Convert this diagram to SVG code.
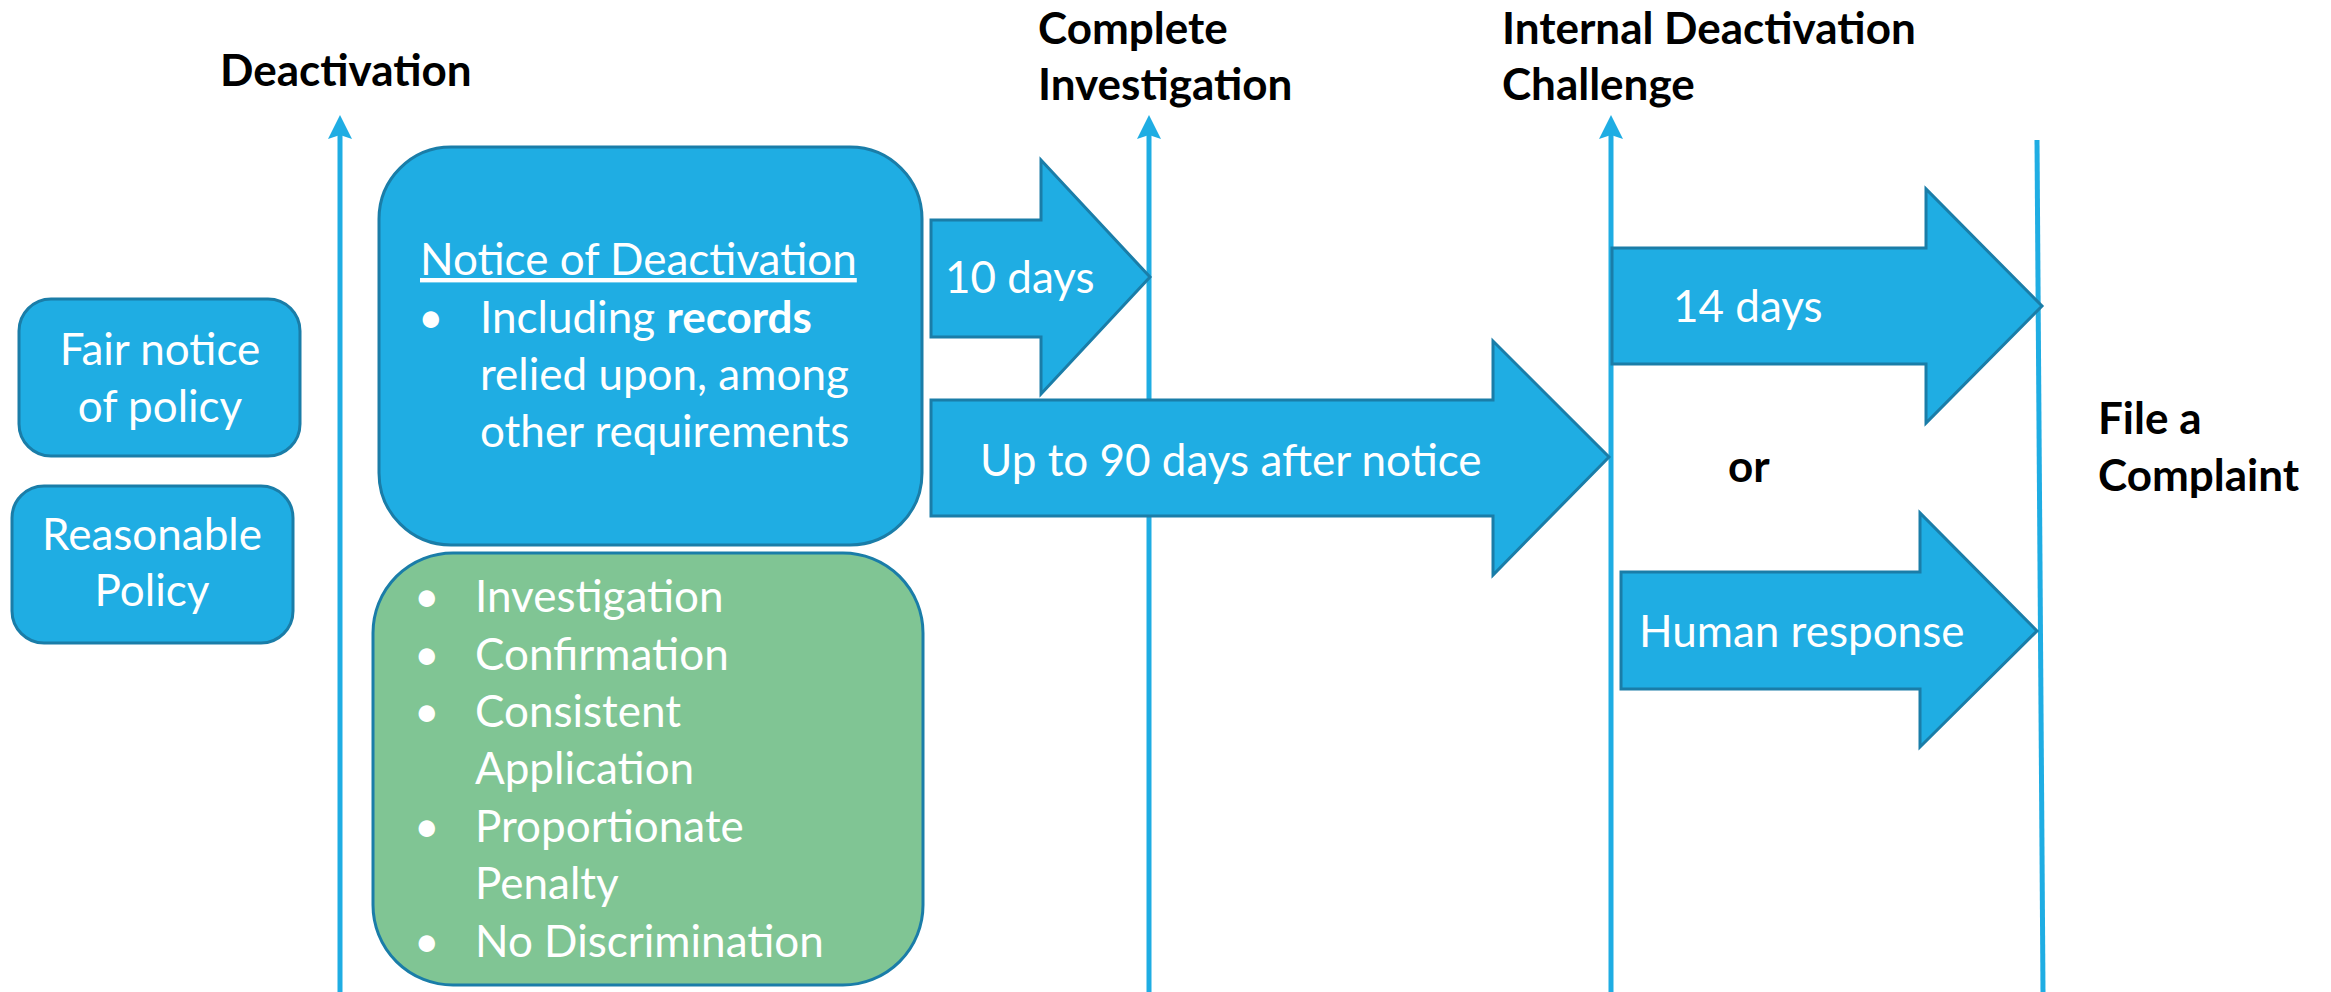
<svg xmlns="http://www.w3.org/2000/svg" width="2331" height="992" viewBox="0 0 2331 992">
<defs>
<path id="head" d="M0 0 L12 24 L0 20 L-12 24 Z" fill="#1FADE3"/>
</defs>
<style>
.box{fill:#1FADE3;stroke:#1A7DA8;stroke-width:3}
.green{fill:#80C594;stroke:#1A7DA8;stroke-width:3}
.arr{fill:#1FADE3;stroke:#1A7DA8;stroke-width:3;stroke-linejoin:miter}
.tl{stroke:#1FADE3;stroke-width:5;fill:none}
.w{fill:#FFFFFF;font-family:Lato,"Liberation Sans",sans-serif;font-size:44px}
.b{fill:#000000;font-family:Lato,"Liberation Sans",sans-serif;font-size:44px;font-weight:bold}
.c{text-anchor:middle}
</style>
<rect width="2331" height="992" fill="#FFFFFF"/>
<g id="connectors">
<line class="tl" x1="340" y1="992" x2="340" y2="132"/>
<use href="#head" x="340" y="115"/>
<line class="tl" x1="1149" y1="992" x2="1149" y2="132"/>
<use href="#head" x="1149" y="115"/>
<line class="tl" x1="1611" y1="992" x2="1611" y2="132"/>
<use href="#head" x="1611" y="115"/>
<line class="tl" x1="2037" y1="140" x2="2043" y2="992"/>
</g>
<g id="label-deactivation"><text class="b" x="220" y="86">Deactivation</text></g>
<g id="label-complete"><text class="b" x="1038" y="44">Complete</text><text class="b" x="1038" y="100">Investigation</text></g>
<g id="label-internal"><text class="b" x="1502" y="44">Internal Deactivation</text><text class="b" x="1502" y="100">Challenge</text></g>
<g id="label-complaint"><text class="b" x="2098" y="434">File a</text><text class="b" x="2098" y="491">Complaint</text></g>
<g id="label-or"><text class="b" x="1728" y="482">or</text></g>
<g id="fair-notice">
<rect class="box" x="19" y="299" width="281" height="157" rx="32"/>
<text class="w c" x="160" y="365">Fair notice</text><text class="w c" x="160" y="422">of policy</text>
</g>
<g id="reasonable-policy">
<rect class="box" x="12" y="486" width="281" height="157" rx="32"/>
<text class="w c" x="152" y="550">Reasonable</text><text class="w c" x="152" y="606">Policy</text>
</g>
<g id="notice">
<rect class="box" x="379" y="147" width="543" height="398" rx="72"/>
<text class="w" x="420" y="275" text-decoration="underline">Notice of Deactivation</text>
<text class="w" x="418" y="333">•</text>
<text class="w" x="480" y="333">Including <tspan font-weight="bold">records</tspan></text>
<text class="w" x="480" y="390">relied upon, among</text>
<text class="w" x="480" y="447">other requirements</text>
</g>
<g id="requirements">
<rect class="green" x="373" y="553" width="550" height="432" rx="80"/>
<text class="w" x="414" y="612">•</text><text class="w" x="475" y="612">Investigation</text>
<text class="w" x="414" y="670">•</text><text class="w" x="475" y="670">Confirmation</text>
<text class="w" x="414" y="727">•</text><text class="w" x="475" y="727">Consistent</text>
<text class="w" x="475" y="784">Application</text>
<text class="w" x="414" y="842">•</text><text class="w" x="475" y="842">Proportionate</text>
<text class="w" x="475" y="899">Penalty</text>
<text class="w" x="414" y="957">•</text><text class="w" x="475" y="957">No Discrimination</text>
</g>
<g id="arrow-10days">
<polygon class="arr" points="931,220 1041,220 1041,160 1150,277 1041,394 1041,337 931,337"/>
<text class="w" x="945" y="293">10 days</text>
</g>
<g id="arrow-90days">
<polygon class="arr" points="931,400 1493,400 1493,341 1609,457 1493,575 1493,516 931,516"/>
<text class="w" x="980" y="476">Up to 90 days after notice</text>
</g>
<g id="arrow-14days">
<polygon class="arr" points="1612,248 1926,248 1926,189 2042,306 1926,423 1926,364 1612,364"/>
<text class="w" x="1673" y="322">14 days</text>
</g>
<g id="arrow-human">
<polygon class="arr" points="1621,572 1920,572 1920,513 2037,631 1920,747 1920,689 1621,689"/>
<text class="w" x="1639" y="647">Human response</text>
</g>
</svg>
